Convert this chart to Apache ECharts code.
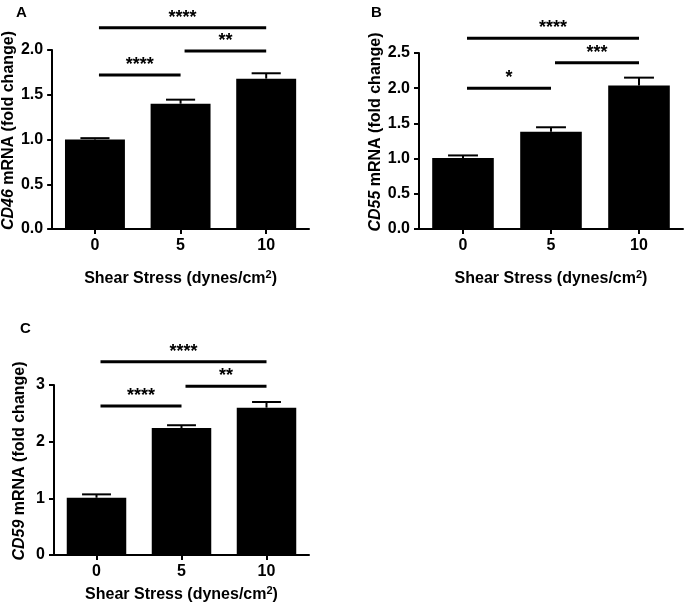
<!DOCTYPE html>
<html>
<head>
<meta charset="utf-8">
<script src="https://cdn.jsdelivr.net/npm/echarts@6/dist/echarts.min.js"></script>
<style>
html,body{margin:0;padding:0;background:#fff;}
#chart{width:686px;height:613px;}
</style>
</head>
<body>
<div id="chart"></div>
<script>
// ---- data ----
const categories = ['0', '5', '10'];
const cd46Mean = [1.00, 1.40, 1.68];
const cd46Err  = [0.015, 0.045, 0.06];
const cd55Mean = [1.01, 1.38, 2.04];
const cd55Err  = [0.035, 0.065, 0.11];
const cd59Mean = [1.01, 2.24, 2.60];
const cd59Err  = [0.06, 0.05, 0.10];
// significance brackets: [fromCategoryIndex, toCategoryIndex, yValue, label]
const cd46Sig = [[0, 2, 2.25, '****'], [1, 2, 1.99, '**'], [0, 1, 1.72, '****']];
const cd55Sig = [[0, 2, 2.71, '****'], [1, 2, 2.36, '***'], [0, 1, 2.00, '*']];
const cd59Sig = [[0, 2, 3.41, '****'], [1, 2, 2.98, '**'], [0, 1, 2.63, '****']];
const yMax = [2, 2.5, 3];
const yInterval = [0.5, 0.5, 1];
const yDecimals = [1, 1, 0];
const geneNames = ['CD46', 'CD55', 'CD59'];
const panelLetters = ['A', 'B', 'C'];
const xTitle = 'Shear Stress (dynes/cm{sup|2})';

const FONT = 'Liberation Sans, Arial, sans-serif';
const chart = echarts.init(document.getElementById('chart'));

const grids = [
  {left: 52, top: 50, width: 257, height: 179},
  {left: 419, top: 53, width: 264, height: 176},
  {left: 54, top: 385, width: 255, height: 170}
];
const nameGaps = [34, 33, 26];
const xNameGaps = [40, 40, 30];
const letterPos = [[11, 0], [366, 0], [15, 316]];

const means = [cd46Mean, cd55Mean, cd59Mean];
const errs = [cd46Err, cd55Err, cd59Err];
const sigs = [cd46Sig, cd55Sig, cd59Sig];

const xAxes = [], yAxes = [], series = [], titles = [];
for (let k = 0; k < 3; k++) {
  titles.push({
    text: panelLetters[k], left: letterPos[k][0], top: letterPos[k][1],
    textStyle: {fontFamily: FONT, fontSize: 15, fontWeight: 'bold', color: '#000'}
  });
  xAxes.push({
    type: 'category', gridIndex: k, data: categories, boundaryGap: true,
    axisLine: {show: true, lineStyle: {color: '#000', width: 2}},
    axisTick: {show: true, alignWithLabel: true, length: 5, lineStyle: {color: '#000', width: 2}},
    axisLabel: {color: '#000', fontFamily: FONT, fontSize: 16, fontWeight: 'bold', margin: 9},
    splitLine: {show: false},
    name: xTitle, nameLocation: 'middle', nameGap: xNameGaps[k],
    nameTextStyle: {
      color: '#000', fontFamily: FONT, fontSize: 16, fontWeight: 'bold',
      rich: {sup: {fontFamily: FONT, fontSize: 11, fontWeight: 'bold', color: '#000', verticalAlign: 'top', padding: [0, 0, 8, 0]}}
    }
  });
  yAxes.push({
    type: 'value', gridIndex: k, min: 0, max: yMax[k], interval: yInterval[k],
    axisLine: {show: true, lineStyle: {color: '#000', width: 2}},
    axisTick: {show: true, length: 5, lineStyle: {color: '#000', width: 2}},
    axisLabel: {color: '#000', fontFamily: FONT, fontSize: 16, fontWeight: 'bold', margin: 9,
      formatter: (v) => v.toFixed(yDecimals[k])},
    splitLine: {show: false},
    name: '{i|' + geneNames[k] + '} mRNA (fold change)',
    nameLocation: 'middle', nameRotate: 90, nameGap: nameGaps[k],
    nameTextStyle: {
      color: '#000', fontFamily: FONT, fontSize: 16, fontWeight: 'bold', padding: [0, 0, 0, 18],
      rich: {i: {fontFamily: FONT, fontSize: 16, fontWeight: 'bold', fontStyle: 'italic', color: '#000'}}
    }
  });
  series.push({
    type: 'bar', xAxisIndex: k, yAxisIndex: k, data: means[k],
    barCategoryGap: '30%', itemStyle: {color: '#000'}, silent: true, z: 2
  });
  const errData = means[k].map((m, i) => [i, m, errs[k][i]]);
  series.push({
    type: 'custom', xAxisIndex: k, yAxisIndex: k, data: errData, clip: false, z: 3,
    encode: {x: 0, y: 1},
    renderItem: function (params, api) {
      const i = api.value(0), m = api.value(1), e = api.value(2);
      const base = api.coord([i, m]);
      const top = api.coord([i, m + e]);
      const half = api.size([1, 0])[0] * 0.17;
      return {type: 'group', children: [
        {type: 'line', shape: {x1: base[0], y1: base[1], x2: top[0], y2: top[1]}, style: {stroke: '#000', lineWidth: 2}},
        {type: 'line', shape: {x1: top[0] - half, y1: top[1], x2: top[0] + half, y2: top[1]}, style: {stroke: '#000', lineWidth: 2}}
      ]};
    }
  });
  const sig = sigs[k];
  series.push({
    type: 'custom', xAxisIndex: k, yAxisIndex: k, clip: false, z: 4,
    data: sig.map(s => [s[0], s[1], s[2]]),
    encode: {x: [0, 1], y: 2},
    renderItem: function (params, api) {
      const p1 = api.coord([api.value(0), api.value(2)]);
      const p2 = api.coord([api.value(1), api.value(2)]);
      const label = sig[params.dataIndex][3];
      return {type: 'group', children: [
        {type: 'line', shape: {x1: p1[0] + 4, y1: p1[1], x2: p2[0], y2: p2[1]}, style: {stroke: '#000', lineWidth: 3}},
        {type: 'text', style: {text: label, x: (p1[0] + p2[0]) / 2 + 2, y: p1[1] - 1,
          align: 'center', verticalAlign: 'bottom', fill: '#000',
          font: 'bold 18px ' + FONT}}
      ]};
    }
  });
}

chart.setOption({
  animation: false,
  title: titles,
  grid: grids,
  xAxis: xAxes,
  yAxis: yAxes,
  series: series
});
</script>
</body>
</html>
